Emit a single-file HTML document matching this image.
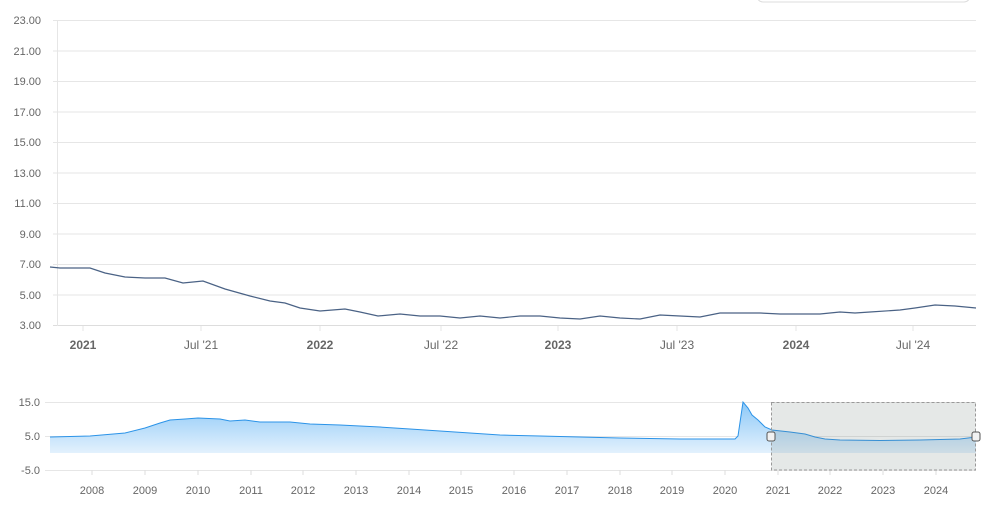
<!DOCTYPE html>
<html><head><meta charset="utf-8"><style>
html,body{margin:0;padding:0;background:#fff;width:1000px;height:509px;overflow:hidden}
text{font-family:"Liberation Sans",sans-serif;font-size:11px;fill:#666}
.xl text{font-size:12px}
</style></head><body>
<svg width="1000" height="509" xmlns="http://www.w3.org/2000/svg">
<defs><linearGradient id="g" x1="0" y1="0" x2="0" y2="1"><stop offset="0" stop-color="#8cc8f7"/><stop offset="1" stop-color="#e3f1fd"/></linearGradient></defs>
<rect x="757" y="-10" width="213" height="12" rx="6" fill="#fff" stroke="#ddd"/>
<g stroke="#e6e6e6" stroke-width="1">
<line x1="53" x2="976" y1="20.5" y2="20.5"/><line x1="53" x2="976" y1="51" y2="51"/><line x1="53" x2="976" y1="81.5" y2="81.5"/><line x1="53" x2="976" y1="112" y2="112"/><line x1="53" x2="976" y1="142.5" y2="142.5"/><line x1="53" x2="976" y1="173" y2="173"/><line x1="53" x2="976" y1="203.5" y2="203.5"/><line x1="53" x2="976" y1="234" y2="234"/><line x1="53" x2="976" y1="264.5" y2="264.5"/><line x1="53" x2="976" y1="295" y2="295"/>
<line x1="53" x2="976" y1="325.5" y2="325.5" stroke="#ddd"/>
<line x1="57.5" x2="57.5" y1="20" y2="326"/>
<line x1="83" x2="83" y1="326" y2="331"/><line x1="201" x2="201" y1="326" y2="331"/><line x1="320" x2="320" y1="326" y2="331"/><line x1="441" x2="441" y1="326" y2="331"/><line x1="558" x2="558" y1="326" y2="331"/><line x1="677" x2="677" y1="326" y2="331"/><line x1="796" x2="796" y1="326" y2="331"/><line x1="913" x2="913" y1="326" y2="331"/>
</g>
<g text-anchor="end">
<text x="41" y="24">23.00</text><text x="41" y="55">21.00</text><text x="41" y="85">19.00</text><text x="41" y="116">17.00</text><text x="41" y="146">15.00</text><text x="41" y="177">13.00</text><text x="41" y="207">11.00</text><text x="41" y="238">9.00</text><text x="41" y="268">7.00</text><text x="41" y="299">5.00</text><text x="41" y="329">3.00</text>
</g>
<g text-anchor="middle" class="xl">
<text x="83" y="349" style="font-weight:bold">2021</text><text x="201" y="349">Jul '21</text><text x="320" y="349" style="font-weight:bold">2022</text><text x="441" y="349">Jul '22</text><text x="558" y="349" style="font-weight:bold">2023</text><text x="677" y="349">Jul '23</text><text x="796" y="349" style="font-weight:bold">2024</text><text x="913" y="349">Jul '24</text>
</g>
<polyline fill="none" stroke="#4a6285" stroke-width="1.2" points="50,267 60,268 90,268 105,273 125,277 145,278 165,278 183,283 203,281 225,289 250,296 270,301 285,303 300,308 320,311 345,309 360,312 378,316 400,314 420,316 440,316 460,318 480,316 500,318 520,316 540,316 560,318 580,319 600,316 620,318 640,319 660,315 680,316 700,317 720,313 760,313 780,314 800,314 820,314 840,312 855,313 870,312 900,310 915,308 935,305 955,306 976,308"/>
<g stroke="#e6e6e6"><line x1="45" x2="976" y1="402.5" y2="402.5"/><line x1="45" x2="976" y1="436.5" y2="436.5"/><line x1="45" x2="976" y1="470.5" y2="470.5"/></g>
<g stroke="#ddd"><line x1="92" x2="92" y1="470" y2="475"/><line x1="145" x2="145" y1="470" y2="475"/><line x1="198" x2="198" y1="470" y2="475"/><line x1="251" x2="251" y1="470" y2="475"/><line x1="303" x2="303" y1="470" y2="475"/><line x1="356" x2="356" y1="470" y2="475"/><line x1="409" x2="409" y1="470" y2="475"/><line x1="461" x2="461" y1="470" y2="475"/><line x1="514" x2="514" y1="470" y2="475"/><line x1="567" x2="567" y1="470" y2="475"/><line x1="620" x2="620" y1="470" y2="475"/><line x1="672" x2="672" y1="470" y2="475"/><line x1="725" x2="725" y1="470" y2="475"/><line x1="778" x2="778" y1="470" y2="475"/><line x1="830" x2="830" y1="470" y2="475"/><line x1="883" x2="883" y1="470" y2="475"/><line x1="936" x2="936" y1="470" y2="475"/></g>
<g text-anchor="end"><text x="40" y="406">15.0</text><text x="40" y="440">5.0</text><text x="40" y="474">-5.0</text></g>
<g text-anchor="middle"><text x="92" y="494">2008</text><text x="145" y="494">2009</text><text x="198" y="494">2010</text><text x="251" y="494">2011</text><text x="303" y="494">2012</text><text x="356" y="494">2013</text><text x="409" y="494">2014</text><text x="461" y="494">2015</text><text x="514" y="494">2016</text><text x="567" y="494">2017</text><text x="620" y="494">2018</text><text x="672" y="494">2019</text><text x="725" y="494">2020</text><text x="778" y="494">2021</text><text x="830" y="494">2022</text><text x="883" y="494">2023</text><text x="936" y="494">2024</text></g>
<polygon fill="url(#g)" points="50,453 50,437 90,436 125,433 145,428 160,423 170,420 185,419 198,418 220,419 230,421 245,420 260,422 290,422 310,424 340,425 360,426 380,427 410,429 440,431 470,433 500,435 540,436 580,437 620,438 680,439 735,439 738,436 743,402 748,408 752,415 758,420 765,427 772,430 790,432 805,434 815,437 825,439 840,440 880,440.5 920,440 960,439 976,437 976,453"/>
<polyline fill="none" stroke="#2b93e8" stroke-width="1" points="50,437 90,436 125,433 145,428 160,423 170,420 185,419 198,418 220,419 230,421 245,420 260,422 290,422 310,424 340,425 360,426 380,427 410,429 440,431 470,433 500,435 540,436 580,437 620,438 680,439 735,439 738,436 743,402 748,408 752,415 758,420 765,427 772,430 790,432 805,434 815,437 825,439 840,440 880,440.5 920,440 960,439 976,437"/>
<rect x="771.5" y="402.5" width="204" height="67.5" fill="rgba(110,125,120,0.18)" stroke="#999" stroke-dasharray="3,2"/>
<rect x="767" y="432" width="8" height="9" rx="2" fill="#f2f2f2" stroke="#555"/>
<rect x="972" y="432" width="8" height="9" rx="2" fill="#f2f2f2" stroke="#555"/>
</svg>
</body></html>
